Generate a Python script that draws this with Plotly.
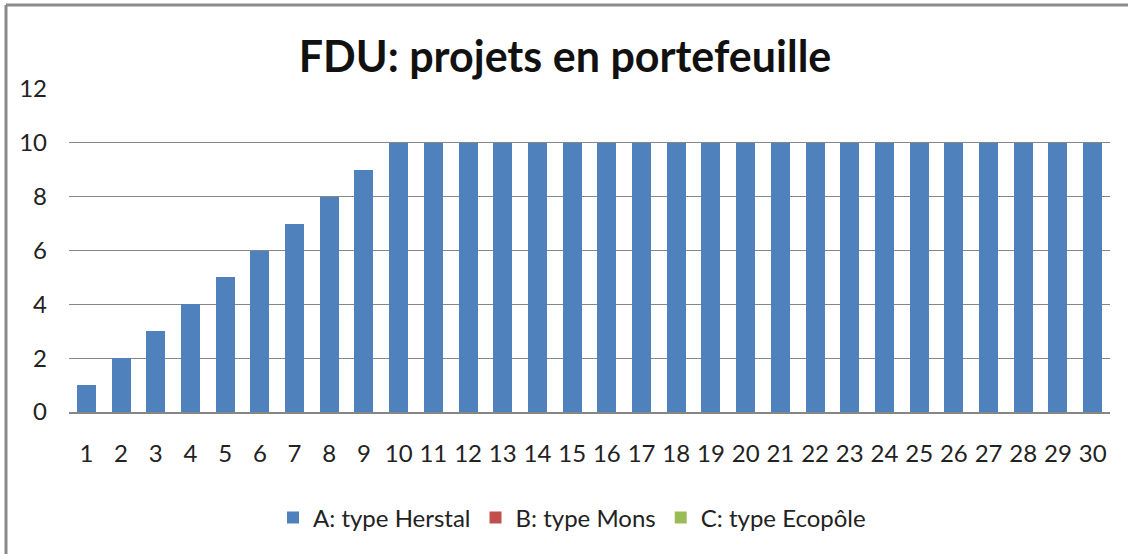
import plotly.graph_objects as go

categories = [str(i) for i in range(1, 31)]
herstal = [1, 2, 3, 4, 5, 6, 7, 8, 9] + [10] * 21
mons = [0] * 30
ecopole = [0] * 30

title_text = "FDU: projets en portefeuille"
series_names = ["A: type Herstal", "B: type Mons", "C: type Ecopôle"]
colors = ["#4F81BD", "#C0504D", "#9BBB59"]

fig = go.Figure()
for name, vals, col in zip(series_names, [herstal, mons, ecopole], colors):
    fig.add_trace(go.Bar(x=categories, y=vals, name=name, marker_color=col,
                         marker_line_width=0))

W, H = 1128, 554
L, R, T, B = 69, 18, 89, 142
pw, ph = W - L - R, H - T - B

def px(x):
    return (x - L) / pw

def py(y):
    return (H - B - y) / ph

border = dict(color="#8a8a8a", width=3)

fig.update_layout(
    width=W, height=H,
    margin=dict(l=L, r=R, t=T, b=B),
    paper_bgcolor="white", plot_bgcolor="white",
    barmode="stack", bargap=0.45,
    font=dict(family="Lato, 'Open Sans', sans-serif", color="#222", size=24),
    title=dict(text="<b>" + title_text + "</b>", x=565 / W, xref="container",
               xanchor="center", y=1 - 57 / H, yanchor="middle",
               font=dict(size=43, color="#111")),
    showlegend=True,
    legend=dict(orientation="h", x=px(572), xanchor="center",
                y=py(518), yanchor="middle",
                font=dict(size=24, color="#222"), traceorder="normal",
                itemwidth=30, tracegroupgap=0),
    xaxis=dict(showgrid=False, showline=True, linecolor="#868686", linewidth=1.5,
               ticks="", tickfont=dict(size=24, color="#222"), ticklabelstandoff=19,
               type="category"),
    yaxis=dict(range=[0, 12], dtick=2, showgrid=True, gridcolor="#868686", gridwidth=1.2,
               zeroline=False, showline=False, ticks="",
               tickfont=dict(size=24, color="#222"), ticklabelstandoff=21),
    shapes=[
        dict(type="line", xref="paper", yref="paper",
             x0=px(6), x1=px(W + 20), y0=py(5), y1=py(5), line=border, layer="above"),
        dict(type="line", xref="paper", yref="paper",
             x0=px(6), x1=px(6), y0=py(5), y1=py(H + 20), line=border, layer="above"),
    ],
)

fig.write_html("out.html", config={"displayModeBar": False},
               post_script="document.body.style.margin='0';document.body.style.overflow='hidden';")
